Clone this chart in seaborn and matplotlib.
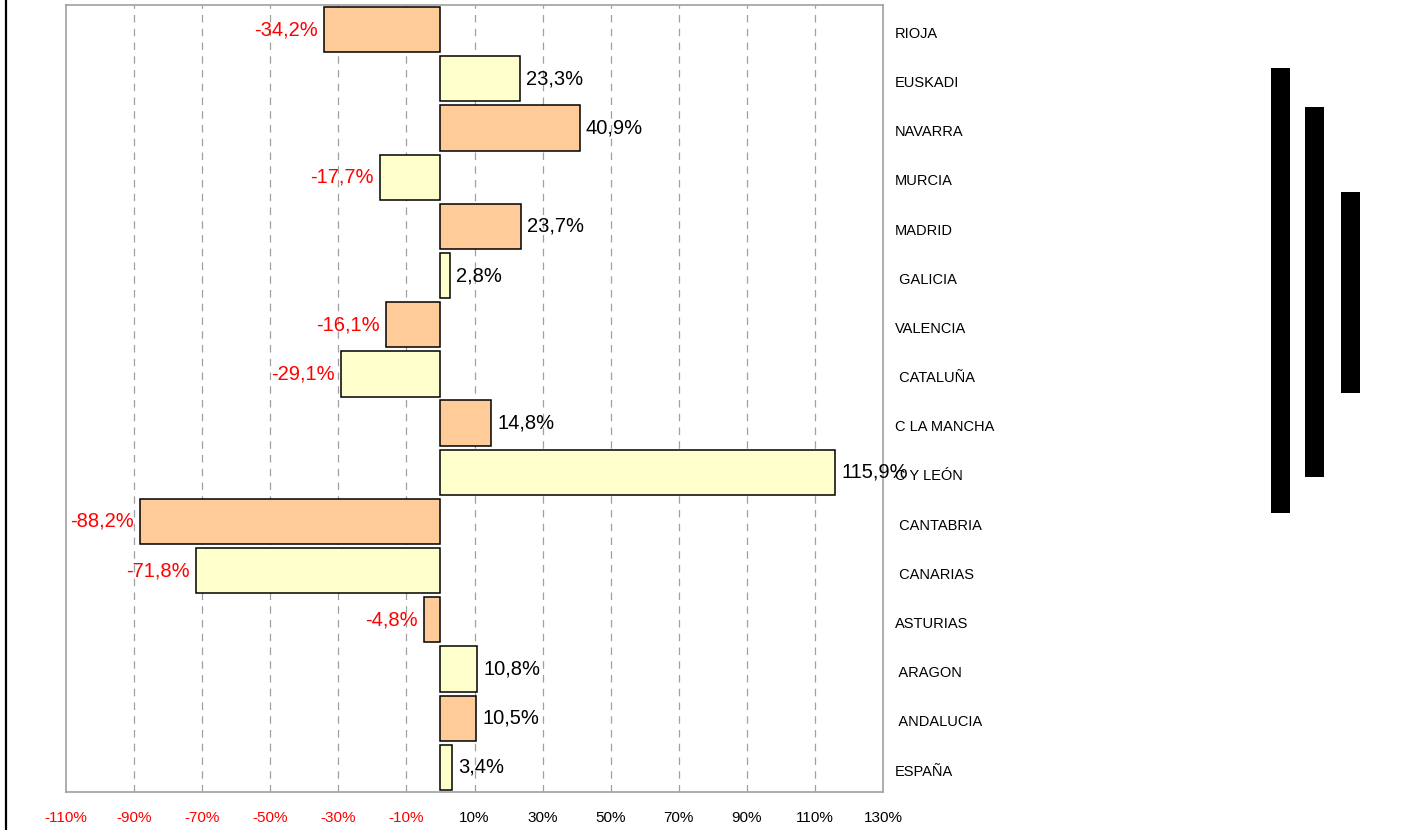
import matplotlib
matplotlib.use("Agg")
import matplotlib.pyplot as plt
from matplotlib.patches import Rectangle
from matplotlib.lines import Line2D
import seaborn as sns
import pandas as pd

# Variación por comunidad autónoma (%)
regions = ["RIOJA", "EUSKADI", "NAVARRA", "MURCIA", "MADRID", "GALICIA", "VALENCIA",
           "CATALUÑA", "C LA MANCHA", "C Y LEÓN", "CANTABRIA", "CANARIAS", "ASTURIAS",
           "ARAGON", "ANDALUCIA", "ESPAÑA"]
values = [-34.2, 23.3, 40.9, -17.7, 23.7, 2.8, -16.1, -29.1, 14.8, 115.9, -88.2, -71.8,
          -4.8, 10.8, 10.5, 3.4]
region_labels = ["RIOJA", "EUSKADI", "NAVARRA", "MURCIA", "MADRID", " GALICIA", "VALENCIA",
                 " CATALUÑA", "C LA MANCHA", "C Y LEÓN", " CANTABRIA", " CANARIAS",
                 "ASTURIAS", " ARAGON", " ANDALUCIA", "ESPAÑA"]
x_ticks = [-110, -90, -70, -50, -30, -10, 10, 30, 50, 70, 90, 110, 130]

ORANGE = "#FFCC99"
YELLOW = "#FFFFCC"
palette = [ORANGE if i % 2 == 0 else YELLOW for i in range(len(regions))]

df = pd.DataFrame({"region": regions, "value": values})

sns.set_style("white")
plt.rcParams["font.family"] = ["Liberation Sans", "DejaVu Sans"]

W, H, DPI = 1418, 830, 100
fig = plt.figure(figsize=(W / DPI, H / DPI), dpi=DPI)
ax = fig.add_axes([66 / W, (H - 792) / H, (883 - 66) / W, (792 - 5) / H])

sns.barplot(data=df, y="region", x="value", hue="region", palette=palette,
            order=regions, hue_order=regions, orient="h", legend=False,
            saturation=1, width=0.92, edgecolor="black", linewidth=1.1, ax=ax, zorder=3)

ax.set_xlim(-110, 130)
ax.set_ylim(len(regions) - 0.5, -0.5)
ax.set_xticks(x_ticks)
ax.set_xticklabels([f"{t}%" for t in x_ticks], fontsize=11)
for lbl, t in zip(ax.get_xticklabels(), x_ticks):
    lbl.set_color("red" if t < 0 else "black")
ax.tick_params(axis="x", direction="out", length=4, width=1.1, color="#A0A0A0", pad=9.5)

ax.set_yticks([])
ax.set_xlabel("")
ax.set_ylabel("")

# dashed vertical grid at the inner ticks
for t in x_ticks[1:-1]:
    ax.axvline(t, color="#A0A0A0", lw=0.9, ls=(0, (6, 5)), zorder=1)

for s in ax.spines.values():
    s.set_visible(True)
    s.set_color("#A0A0A0")
    s.set_linewidth(1.2)

# value labels
for i, v in enumerate(values):
    txt = f"{v:.1f}".replace(".", ",") + "%"
    if v < 0:
        ax.annotate(txt, xy=(v, i), xytext=(-4.5, 0), textcoords="offset points",
                    ha="right", va="center", color="red", fontsize=14.5, zorder=4)
    else:
        ax.annotate(txt, xy=(v, i), xytext=(4.5, 0), textcoords="offset points",
                    ha="left", va="center", color="black", fontsize=14.5, zorder=4)

# region names on the right side
for i, name in enumerate(region_labels):
    ax.annotate(name, xy=(1, i), xycoords=("axes fraction", "data"),
                xytext=(8.5, -3), textcoords="offset points",
                ha="left", va="center", fontsize=10.5, color="black")

# chart frame edge and right-hand markers
fig.add_artist(Line2D([6 / W, 6 / W], [0, 1], color="black", lw=1.6))
for x0, x1, y0, y1 in [(1271, 1290, 68, 513), (1305, 1324, 107, 477), (1341, 1360, 192, 393)]:
    fig.add_artist(Rectangle((x0 / W, (H - y1) / H), (x1 - x0) / W, (y1 - y0) / H,
                             facecolor="black", edgecolor="none"))

fig.savefig("out.png", dpi=DPI)
